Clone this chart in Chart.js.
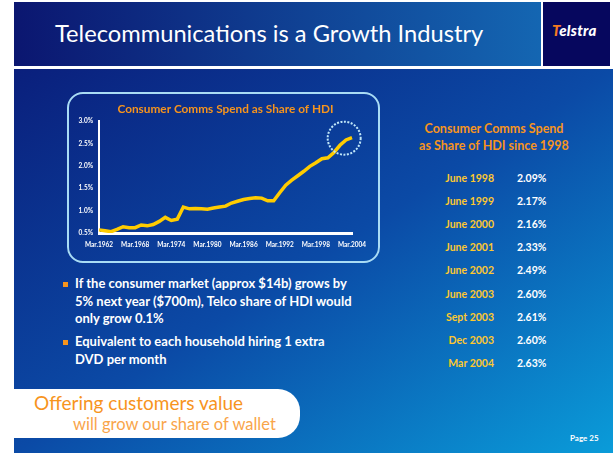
<!DOCTYPE html>
<html>
<head>
<meta charset="utf-8">
<script src="https://cdn.jsdelivr.net/npm/chart.js@4"></script>
<style>
  body { margin: 0; width: 613px; height: 453px; overflow: hidden; background: #fff; position: relative; font-family: Lato, "Open Sans", sans-serif; }
  .abs { position: absolute; white-space: nowrap; }
  #titlebar { left: 14px; top: 2px; width: 527px; height: 64px; background: linear-gradient(to right, #0b1670, #1466b2); }
  #title { left: 55px; top: 20px; font-size: 23.7px; line-height: 26px; color: #fff; }
  #logo { left: 543px; top: 2px; width: 67px; height: 64px; background: #06075e; }
  #logotext { left: 552px; top: 21px; font-size: 15px; line-height: 18px; font-weight: 900; font-style: italic; color: #fff; letter-spacing: 0.3px; }
  #logotext span { color: #f47a20; }
  #body { left: 14px; top: 69px; right: 0; bottom: 0; background: linear-gradient(to bottom right, #0a1f7c 0%, #0b4aa6 50%, #0a9cd9 100%); }
  #chartbox { left: 67px; top: 92px; width: 313px; height: 171px; box-sizing: border-box; border: 2.5px solid #a9dcf5; border-radius: 16px; }
  #chartwrap { left: 60px; top: 92px; width: 330px; height: 170px; }
  .head { color: #f7941d; font-weight: 700; font-size: 12.5px; line-height: 17px; text-align: center; width: 200px; left: 394px; }
  .lab { color: #fdc82f; font-weight: 700; font-size: 10.5px; line-height: 14px; text-align: right; width: 100px; left: 394px; }
  .val { color: #fff; font-weight: 700; font-size: 10.5px; line-height: 14px; left: 517px; }
  .bul { left: 63px; width: 5px; height: 5px; background: #f7941d; }
  .btxt { left: 75px; color: #fff; font-weight: 700; font-size: 13px; line-height: 17.5px; }
  #callout { left: 14px; top: 389px; width: 286px; height: 49px; background: #fff; border-radius: 0 22px 22px 0; }
  #page { left: 570px; top: 433px; font-size: 8px; line-height: 10px; font-weight: 700; color: #fff; }
</style>
</head>
<body>
<div class="abs" id="titlebar"></div>
<div class="abs" id="title">Telecommunications is a Growth Industry</div>
<div class="abs" id="logo"></div>
<div class="abs" id="logotext"><span>T</span>elstra</div>
<div class="abs" id="body"></div>
<div class="abs" id="chartbox"></div>
<div class="abs" id="chartwrap"><canvas id="hdiChart"></canvas></div>

<div class="abs head" style="top:120px">Consumer Comms Spend</div>
<div class="abs head" style="top:137px">as Share of HDI since 1998</div>
<div id="table"></div>

<div class="abs bul" style="top:282px"></div>
<div class="abs btxt" style="top:275px">If the consumer market (approx $14b) grows by<br>5% next year ($700m), Telco share of HDI would<br>only grow 0.1%</div>
<div class="abs bul" style="top:340px"></div>
<div class="abs btxt" style="top:333px">Equivalent to each household hiring 1 extra<br>DVD per month</div>

<div class="abs" id="callout"></div>
<div class="abs" style="left:34px;top:391px;font-size:19px;line-height:24px;color:#f7941d">Offering customers value</div>
<div class="abs" style="left:73px;top:414px;font-size:16.5px;line-height:21px;color:#f9a54a">will grow our share of wallet</div>
<div class="abs" id="page">Page 25</div>

<script>
// Consumer comms spend as share of HDI (%), March of each year
const years = [1962, 1963, 1964, 1965, 1966, 1967, 1968, 1969, 1970, 1971, 1972, 1973, 1974,
  1975, 1976, 1977, 1978, 1979, 1980, 1981, 1982, 1983, 1984, 1985, 1986, 1987, 1988,
  1989, 1990, 1991, 1992, 1993, 1994, 1995, 1996, 1997, 1998, 1999, 2000, 2001, 2002, 2003, 2004];
const shareOfHdi = [0.57, 0.55, 0.53, 0.58, 0.64, 0.62, 0.62, 0.68, 0.66, 0.69, 0.76, 0.85, 0.78,
  0.81, 1.08, 1.04, 1.05, 1.04, 1.03, 1.06, 1.08, 1.10, 1.17, 1.21, 1.25, 1.27, 1.29,
  1.28, 1.22, 1.22, 1.40, 1.57, 1.68, 1.78, 1.88, 1.99, 2.07, 2.16, 2.18, 2.30, 2.46, 2.58, 2.63];
const yTicks = [0.5, 1.0, 1.5, 2.0, 2.5, 3.0];

// table on the right
const tablePeriods = ['June 1998', 'June 1999', 'June 2000', 'June 2001', 'June 2002',
  'June 2003', 'Sept 2003', 'Dec 2003', 'Mar 2004'];
const tableShares = ['2.09%', '2.17%', '2.16%', '2.33%', '2.49%', '2.60%', '2.61%', '2.60%', '2.63%'];

const table = document.getElementById('table');
tablePeriods.forEach(function (p, i) {
  const top = 171 + i * 23.1;
  table.innerHTML += '<div class="abs lab" style="top:' + top + 'px">' + p + '</div>' +
    '<div class="abs val" style="top:' + top + 'px">' + tableShares[i] + '</div>';
});

const labels = years.map(y => 'Mar.' + y);

// dashed highlight ring round the latest values
const ringPlugin = {
  id: 'ring',
  afterDatasetsDraw(chart) {
    const { ctx, scales: { x, y } } = chart;
    ctx.save();
    ctx.beginPath();
    ctx.setLineDash([2, 1.5]);
    ctx.strokeStyle = '#bfe6f8';
    ctx.lineWidth = 2;
    ctx.arc(x.getPixelForValue(40.7), y.getPixelForValue(2.62), 16.5, 0, Math.PI * 2);
    ctx.stroke();
    ctx.restore();
  }
};

Chart.defaults.font.family = 'Lato';

new Chart(document.getElementById('hdiChart'), {
  type: 'line',
  data: {
    labels: labels,
    datasets: [{
      data: shareOfHdi,
      borderColor: '#ffcc00',
      borderWidth: 3.5,
      pointRadius: 0,
      tension: 0
    }]
  },
  options: {
    responsive: true,
    maintainAspectRatio: false,
    animation: false,
    layout: { padding: { left: 0, right: 38, bottom: 0 } },
    plugins: {
      legend: { display: false },
      tooltip: { enabled: false },
      title: {
        display: true,
        fullSize: false, // centre over the plot, not the canvas
        text: 'Consumer Comms Spend as Share of HDI',
        color: '#f7941d',
        font: { size: 11.8, weight: 'bold' },
        padding: { top: 10.5, bottom: 4.5 }
      }
    },
    scales: {
      x: {
        grid: { display: false, drawTicks: false },
        border: { display: true, color: '#ffffff', width: 3 },
        afterFit: s => { s.height = 29; },
        ticks: {
          autoSkip: false,
          maxRotation: 0,
          padding: 8,
          color: '#ffffff',
          font: { size: 6.5, weight: 'bold' },
          callback: function (v, i) { return i % 6 === 0 ? labels[i] : null; }
        }
      },
      y: {
        min: 0.5,
        max: 3.0,
        afterFit: s => { s.width = 39; },
        afterBuildTicks: s => { s.ticks = yTicks.map(v => ({ value: v })); },
        grid: { display: false, drawTicks: false },
        border: { display: true, color: '#ffffff', width: 2 },
        ticks: {
          padding: 6,
          color: '#ffffff',
          font: { size: 6.5, weight: 'bold' },
          callback: v => v.toFixed(1) + '%'
        }
      }
    }
  },
  plugins: [ringPlugin]
});
</script>
</body>
</html>
